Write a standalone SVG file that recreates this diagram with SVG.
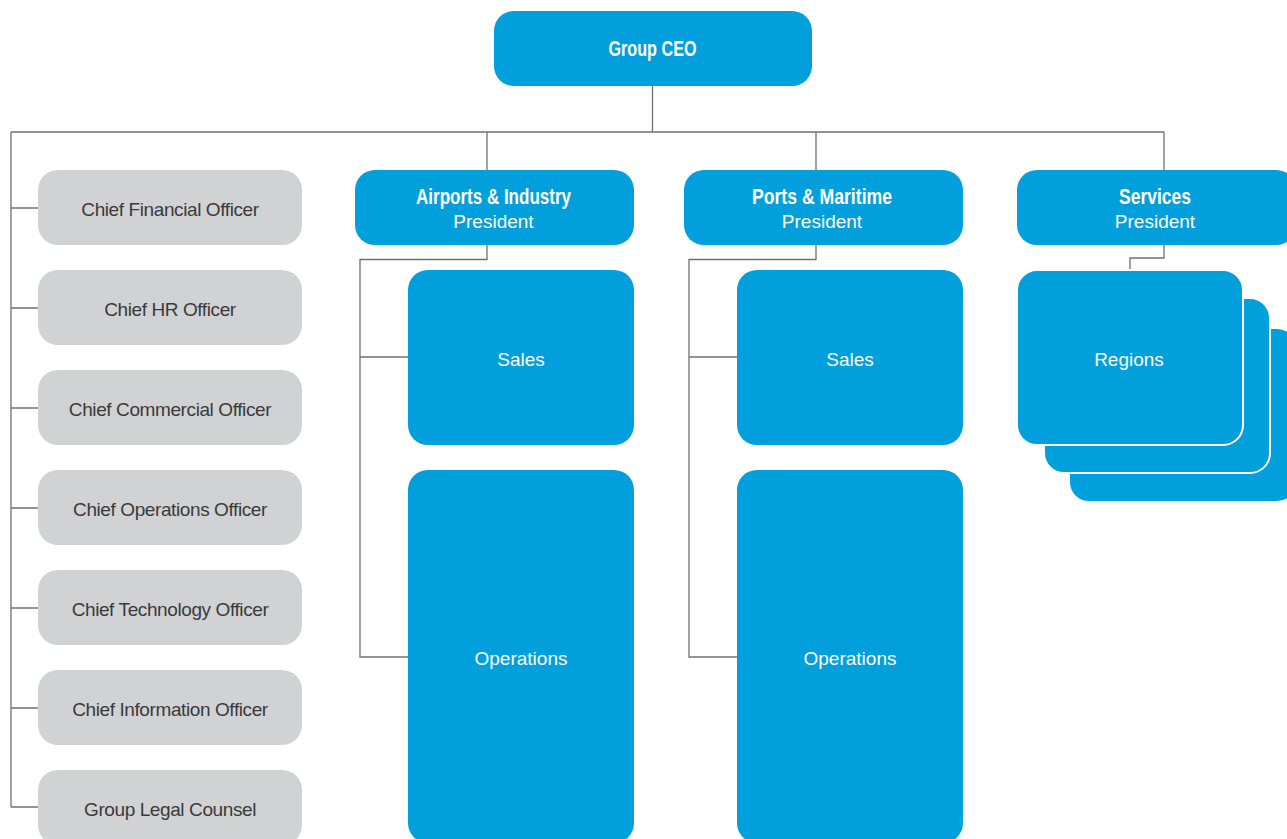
<svg xmlns="http://www.w3.org/2000/svg" width="1287" height="839" viewBox="0 0 1287 839">
  <style>
    .conn { fill: none; stroke: #707072; stroke-width: 1.3; }
    .staff { fill: #d1d2d4; }
    .unit { fill: #019fdb; }
    .stack { fill: #019fdb; stroke: #ffffff; stroke-width: 2; }
    .staff-label { font-family: "Liberation Sans", Arial, sans-serif; font-size: 19px; fill: #3a3a3c; text-anchor: middle; letter-spacing: -0.4px; }
    .title { font-family: "Liberation Sans", Arial, sans-serif; font-weight: bold; font-size: 22px; fill: #ffffff; text-anchor: middle; }
    .sub { font-family: "Liberation Sans", Arial, sans-serif; font-size: 19px; fill: #ffffff; text-anchor: middle; }
  </style>

  <rect width="1287" height="839" fill="#ffffff"/>

  <!-- connectors -->
  <g id="connectors">
    <path class="conn" d="M652.5 86 V132 M11 132 H1164 M11 132 V807"/>
    <path class="conn" d="M11 208 H38 M11 308 H38 M11 408 H38 M11 508 H38 M11 608 H38 M11 708 H38 M11 807 H38"/>
    <path class="conn" d="M487 132 V170 M816 132 V170 M1164 132 V170"/>
    <path class="conn" d="M487 245 V259.5 H360 V657 H408 M360 357 H408"/>
    <path class="conn" d="M816 245 V259.5 H689 V657 H737 M689 357 H737"/>
    <path class="conn" d="M1164 245 V258 H1130 V270"/>
  </g>

  <!-- top -->
  <g id="ceo">
    <rect class="unit" x="494" y="11" width="318" height="75" rx="20"/>
    <text class="title" x="652.5" y="56" textLength="88" lengthAdjust="spacingAndGlyphs">Group CEO</text>
  </g>

  <!-- group functions -->
  <g id="cfo">
    <rect class="staff" x="38" y="170" width="264" height="75" rx="20"/>
    <text class="staff-label" x="170" y="216">Chief Financial Officer</text>
  </g>
  <g id="chro">
    <rect class="staff" x="38" y="270" width="264" height="75" rx="20"/>
    <text class="staff-label" x="170" y="316">Chief HR Officer</text>
  </g>
  <g id="cco">
    <rect class="staff" x="38" y="370" width="264" height="75" rx="20"/>
    <text class="staff-label" x="170" y="416">Chief Commercial Officer</text>
  </g>
  <g id="coo">
    <rect class="staff" x="38" y="470" width="264" height="75" rx="20"/>
    <text class="staff-label" x="170" y="516">Chief Operations Officer</text>
  </g>
  <g id="cto">
    <rect class="staff" x="38" y="570" width="264" height="75" rx="20"/>
    <text class="staff-label" x="170" y="616">Chief Technology Officer</text>
  </g>
  <g id="cio">
    <rect class="staff" x="38" y="670" width="264" height="75" rx="20"/>
    <text class="staff-label" x="170" y="716">Chief Information Officer</text>
  </g>
  <g id="legal">
    <rect class="staff" x="38" y="770" width="264" height="75" rx="20"/>
    <text class="staff-label" x="170" y="816">Group Legal Counsel</text>
  </g>

  <!-- Airports & Industry -->
  <g id="airports">
    <rect class="unit" x="355" y="170" width="279" height="75" rx="20"/>
    <text class="title" x="493.5" y="204" textLength="155" lengthAdjust="spacingAndGlyphs">Airports &amp; Industry</text>
    <text class="sub" x="493.5" y="228">President</text>
  </g>
  <g id="airports-sales">
    <rect class="unit" x="408" y="270" width="226" height="175" rx="20"/>
    <text class="sub" x="521" y="366">Sales</text>
  </g>
  <g id="airports-operations">
    <rect class="unit" x="408" y="470" width="226" height="373" rx="20"/>
    <text class="sub" x="521" y="665">Operations</text>
  </g>

  <!-- Ports & Maritime -->
  <g id="ports">
    <rect class="unit" x="684" y="170" width="279" height="75" rx="20"/>
    <text class="title" x="822" y="204" textLength="140" lengthAdjust="spacingAndGlyphs">Ports &amp; Maritime</text>
    <text class="sub" x="822" y="228">President</text>
  </g>
  <g id="ports-sales">
    <rect class="unit" x="737" y="270" width="226" height="175" rx="20"/>
    <text class="sub" x="850" y="366">Sales</text>
  </g>
  <g id="ports-operations">
    <rect class="unit" x="737" y="470" width="226" height="373" rx="20"/>
    <text class="sub" x="850" y="665">Operations</text>
  </g>

  <!-- Services -->
  <g id="services">
    <rect class="unit" x="1017" y="170" width="279" height="75" rx="20"/>
    <text class="title" x="1155" y="204" textLength="72" lengthAdjust="spacingAndGlyphs">Services</text>
    <text class="sub" x="1155" y="228">President</text>
  </g>
  <g id="regions">
    <rect class="stack" x="1069" y="328" width="228" height="174" rx="20"/>
    <rect class="stack" x="1044" y="298" width="226" height="175" rx="20"/>
    <rect class="stack" x="1017" y="270" width="226" height="175" rx="20"/>
    <text class="sub" x="1129" y="366">Regions</text>
  </g>
</svg>
